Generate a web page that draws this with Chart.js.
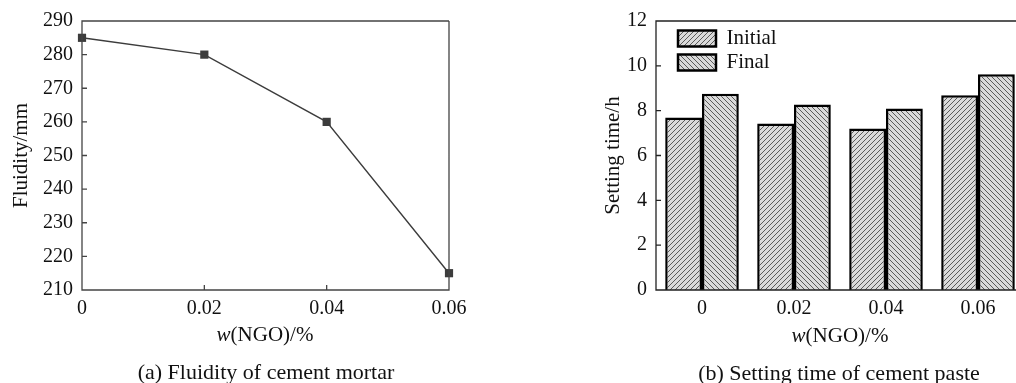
<!DOCTYPE html>
<html>
<head>
<meta charset="utf-8">
<script src="https://cdn.jsdelivr.net/npm/chart.js@4.4.0/dist/chart.umd.min.js"></script>
<style>
  body { margin: 0; width: 1016px; height: 383px; overflow: hidden; background: #fff; position: relative; font-family: "Liberation Serif", "Times New Roman", serif; color: #111; }
  canvas { position: absolute; top: 0; }
  .txt { position: absolute; white-space: nowrap; transform: translate(-50%, -50%); }
  .xtitle { font-size: 21px; }
  .caption { font-size: 22px; }
</style>
</head>
<body>
<canvas id="fluidityChart" width="480" height="383" style="left:0"></canvas>
<canvas id="settingChart" width="450" height="383" style="left:590px"></canvas>
<div class="txt xtitle" style="left:265px; top:334px"><i>w</i>(NGO)/%</div>
<div class="txt xtitle" style="left:840px; top:335px"><i>w</i>(NGO)/%</div>
<div class="txt caption" style="left:266px; top:372px">(a) Fluidity of cement mortar</div>
<div class="txt caption" style="left:839px; top:373px">(b) Setting time of cement paste</div>
<script>
// data
const fluidityLabels = ["0", "0.02", "0.04", "0.06"];
const fluidityValues = [285, 280, 260, 215];

const settingLabels = ["0", "0.02", "0.04", "0.06"];
const initialSetting = [7.7, 7.43, 7.2, 8.69];
const finalSetting = [8.76, 8.27, 8.1, 9.63];

const serif = "'Liberation Serif', 'Times New Roman', serif";

// hatched fill for the bars
function hatch(dir) {
    const s = 5;
    const c = document.createElement("canvas");
    c.width = s;
    c.height = s;
    const g = c.getContext("2d");
    g.fillStyle = "#dadada";
    g.fillRect(0, 0, s, s);
    g.strokeStyle = "#5a5a5a";
    g.lineWidth = 1;
    g.beginPath();
    if (dir === "/") {
        g.moveTo(0, s); g.lineTo(s, 0);
        g.moveTo(-1, 1); g.lineTo(1, -1);
        g.moveTo(s - 1, s + 1); g.lineTo(s + 1, s - 1);
    } else {
        g.moveTo(0, 0); g.lineTo(s, s);
        g.moveTo(-1, s - 1); g.lineTo(1, s + 1);
        g.moveTo(s - 1, -1); g.lineTo(s + 1, 1);
    }
    g.stroke();
    return g.createPattern(c, "repeat");
}

// box frame + inward tick marks
const frameTicks = {
    id: "frameTicks",
    afterDraw(chart, args, opts) {
        const ctx = chart.ctx;
        const a = chart.chartArea;
        const x = chart.scales.x;
        const y = chart.scales.y;
        ctx.save();
        ctx.strokeStyle = opts.color || "#333";
        ctx.lineWidth = 1.3;
        ctx.beginPath();
        ctx.moveTo(a.right, a.top);
        ctx.lineTo(a.left, a.top);
        ctx.lineTo(a.left, a.bottom);
        ctx.lineTo(a.right, a.bottom);
        if (opts.closed) ctx.lineTo(a.right, a.top);
        y.ticks.forEach(t => {
            const py = y.getPixelForValue(t.value);
            ctx.moveTo(a.left, py);
            ctx.lineTo(a.left + 5, py);
        });
        if (opts.xTicks) {
            x.ticks.forEach((t, i) => {
                const px = x.getPixelForTick(i);
                ctx.moveTo(px, a.bottom);
                ctx.lineTo(px, a.bottom - 5);
            });
        }
        ctx.stroke();
        ctx.restore();
    }
};

// put the legend in the upper left corner of the plot
const legendInside = {
    id: "legendInside",
    afterLayout(chart, args, opts) {
        const lg = chart.legend;
        if (!lg) return;
        const h = lg.height;
        lg.left = chart.chartArea.left + opts.dx;
        lg.top = chart.chartArea.top + opts.dy;
        lg.right = lg.left + lg.width;
        lg.bottom = lg.top + h;
    }
};

Chart.defaults.font.family = serif;
Chart.defaults.color = "#111";

new Chart(document.getElementById("fluidityChart"), {
    type: "line",
    data: {
        labels: fluidityLabels,
        datasets: [{
            label: "Fluidity",
            data: fluidityValues,
            borderColor: "#3c3c3c",
            borderWidth: 1.4,
            tension: 0,
            pointStyle: "rect",
            pointRadius: 5.8,
            pointBackgroundColor: "#3c3c3c",
            pointBorderWidth: 0,
            clip: false
        }]
    },
    options: {
        responsive: false,
        animation: false,
        devicePixelRatio: 1,
        layout: { padding: { left: 0, top: 18, right: 31, bottom: 38 } },
        plugins: {
            legend: { display: false },
            tooltip: { enabled: false },
            frameTicks: { closed: true, xTicks: true, color: "#444" }
        },
        scales: {
            x: {
                type: "category",
                offset: false,
                grid: { display: false, drawTicks: false },
                border: { display: false },
                ticks: { font: { size: 20 }, padding: 7, maxRotation: 0, autoSkip: false },
                afterFit: s => { s.height = 55; }
            },
            y: {
                min: 210,
                max: 290,
                grid: { display: false, drawTicks: false },
                border: { display: false },
                ticks: { stepSize: 10, font: { size: 20 }, padding: 9 },
                title: { display: true, text: "Fluidity/mm", font: { size: 21 }, padding: { top: 9, bottom: 0 } },
                afterFit: s => { s.width = 82; }
            }
        }
    },
    plugins: [frameTicks]
});

new Chart(document.getElementById("settingChart"), {
    type: "bar",
    data: {
        labels: settingLabels,
        datasets: [{
            label: "Initial",
            data: initialSetting,
            backgroundColor: hatch("/"),
            borderColor: "#000",
            borderWidth: 2.5
        }, {
            label: "Final",
            data: finalSetting,
            backgroundColor: hatch("\\"),
            borderColor: "#000",
            borderWidth: 2.5
        }]
    },
    options: {
        responsive: false,
        animation: false,
        devicePixelRatio: 1,
        layout: { padding: { left: 0, top: 18, right: 16, bottom: 38 } },
        datasets: { bar: { categoryPercentage: 0.8, barPercentage: 1.0 } },
        plugins: {
            legend: {
                position: "chartArea",
                align: "start",
                labels: {
                    font: { size: 21 },
                    boxWidth: 38,
                    boxHeight: 16,
                    padding: 3,
                    color: "#111"
                }
            },
            legendInside: { dx: 19, dy: 4 },
            tooltip: { enabled: false },
            frameTicks: { closed: false, xTicks: false, color: "#222" }
        },
        scales: {
            x: {
                grid: { display: false, drawTicks: false },
                border: { display: false },
                ticks: { font: { size: 20 }, padding: 7, maxRotation: 0 },
                afterFit: s => { s.height = 55; }
            },
            y: {
                min: 0,
                max: 12,
                grid: { display: false, drawTicks: false },
                border: { display: false },
                ticks: { stepSize: 2, font: { size: 20 }, padding: 9 },
                title: { display: true, text: "Setting time/h", font: { size: 21 }, padding: { top: 11, bottom: 0 } },
                afterFit: s => { s.width = 66; }
            }
        }
    },
    plugins: [frameTicks, legendInside]
});
</script>
</body>
</html>
